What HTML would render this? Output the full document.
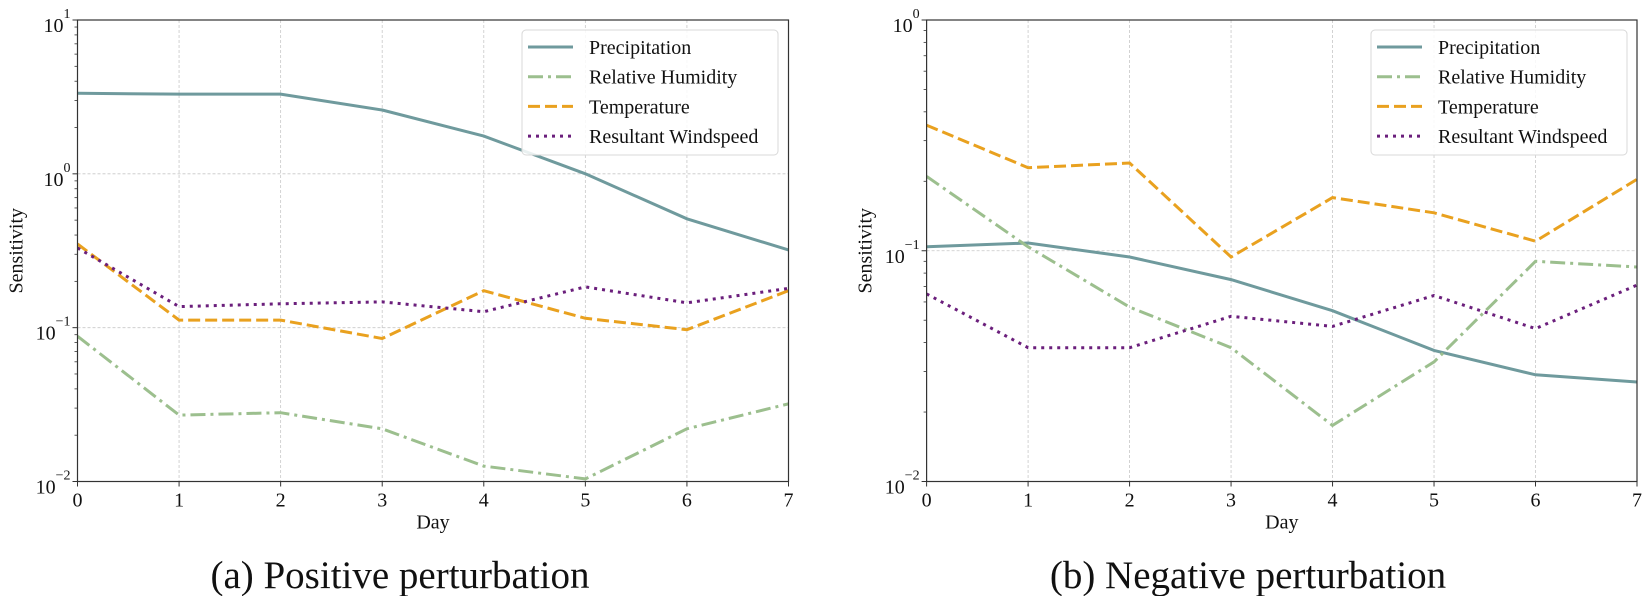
<!DOCTYPE html>
<html><head><meta charset="utf-8">
<style>
html,body{margin:0;padding:0;background:#fff;}
svg{display:block;font-family:"Liberation Serif",serif;}
</style></head>
<body>
<svg id="chart" width="1651" height="596" viewBox="0 0 1651 596" xmlns="http://www.w3.org/2000/svg"></svg>
<script>
const days = [0,1,2,3,4,5,6,7];
const seriesNames = ["Precipitation","Relative Humidity","Temperature","Resultant Windspeed"];
// Panel (a) positive perturbation
const posPrecip = [3.34,3.3,3.3,2.6,1.76,1.0,0.51,0.32];
const posHumidity = [0.088,0.027,0.028,0.022,0.0126,0.0104,0.022,0.032];
const posTemp = [0.35,0.112,0.112,0.085,0.174,0.115,0.097,0.174];
const posWind = [0.33,0.137,0.143,0.147,0.127,0.184,0.145,0.18];
// Panel (b) negative perturbation
const negPrecip = [0.104,0.108,0.094,0.075,0.055,0.037,0.029,0.027];
const negHumidity = [0.21,0.104,0.057,0.038,0.0175,0.033,0.09,0.085];
const negTemp = [0.35,0.229,0.24,0.094,0.17,0.146,0.11,0.204];
const negWind = [0.065,0.038,0.038,0.052,0.047,0.064,0.046,0.071];
const posExp = [1,0,-1,-2];
const negExp = [0,-1,-2];

const NS="http://www.w3.org/2000/svg";
const svg=document.getElementById('chart');
function mk(tag,attrs,parent){const e=document.createElementNS(NS,tag);for(const k in attrs)e.setAttribute(k,attrs[k]);(parent||svg).appendChild(e);return e;}
const styles=[
 {c:"#6f9a9d",d:"none"},
 {c:"#9cbf8e",d:"15,5,3,5"},
 {c:"#e9a11f",d:"12,5"},
 {c:"#6b1f7c",d:"3,5"}
];

function panel(id,x0,x1,y0,y1,emax,emin,data,caption,capX,legX){
  const g=mk('g',{});
  
  
  const xs=d=>x0+(x1-x0)*(d-days[0])/(days[days.length-1]-days[0]);
  const ys=v=>y0+(y1-y0)*(emax-Math.log10(v))/(emax-emin);
  // grid
  days.forEach(d=>{const l=mk('line',{x1:xs(d),x2:xs(d),y1:y0,y2:y1,stroke:"#c8c8c8","stroke-width":0.8,"stroke-dasharray":"3,2"},g);
    });
  for(let e=emax;e>=emin;e--){const l=mk('line',{x1:x0,x2:x1,y1:ys(Math.pow(10,e)),y2:ys(Math.pow(10,e)),stroke:"#c8c8c8","stroke-width":0.8,"stroke-dasharray":"3,2"},g);
    }
  // series
  const clip='clip-'+id;
  const cp=mk('clipPath',{id:clip},g);mk('rect',{x:x0,y:y0-2,width:x1-x0,height:y1-y0+4},cp);
  data.forEach((vals,i)=>{
    const pts=vals.map((v,j)=>xs(days[j]).toFixed(1)+','+ys(v).toFixed(1)).join(' ');
    const p=mk('polyline',{points:pts,fill:"none",stroke:styles[i].c,"stroke-width":3,"stroke-dasharray":styles[i].d,"clip-path":"url(#"+clip+")"},g);
    
    
  });
  // frame
  const fr=mk('rect',{x:x0,y:y0,width:x1-x0,height:y1-y0,fill:"none",stroke:"#333","stroke-width":1.2},g);
  
  // x ticks
  days.forEach(d=>{mk('line',{x1:xs(d),x2:xs(d),y1:y1,y2:y1+5,stroke:"#333","stroke-width":1},g);
    const t=mk('text',{x:xs(d),y:y1+25,"text-anchor":"middle","font-size":20,fill:"#111"},g);t.textContent=d;
    });
  // y ticks
  for(let e=emax;e>=emin;e--){
    const y=ys(Math.pow(10,e));
    mk('line',{x1:x0-5,x2:x0,y1:y,y2:y,stroke:"#333","stroke-width":1},g);
    if(e>emin){for(let m=2;m<=9;m++){const ym=ys(m*Math.pow(10,e-1));mk('line',{x1:x0-3,x2:x0,y1:ym,y2:ym,stroke:"#333","stroke-width":0.8},g);}}
    const t=mk('text',{x:x0-7,y:y+12,"text-anchor":"end","font-size":20,fill:"#111"},g);
    
    const a=mk('tspan',{},t);a.textContent='10';
    const b=mk('tspan',{dy:-14,"font-size":14},t);b.textContent=(e<0?'\u2212'+(-e):''+e);
  }
  const xl=mk('text',{x:(x0+x1)/2,y:y1+47,"text-anchor":"middle","font-size":20,fill:"#111"},g);xl.textContent='Day';
  
  const yl=mk('text',{x:0,y:0,"text-anchor":"middle","font-size":20,fill:"#111",transform:`translate(${x0-55},${(y0+y1)/2}) rotate(-90)`},g);yl.textContent='Sensitivity';
  
  // legend
  const lg=mk('g',{},g);
  mk('rect',{x:legX,y:30,width:256,height:125,rx:4,fill:"#fff","fill-opacity":0.85,stroke:"#d8d8d8","stroke-width":1},lg);
  seriesNames.forEach((n,i)=>{
    const yy=47+i*29.7;
    const e=mk('g',{},lg);
    mk('line',{x1:legX+6,x2:legX+51,y1:yy,y2:yy,stroke:styles[i].c,"stroke-width":3,"stroke-dasharray":styles[i].d},e);
    const t=mk('text',{x:legX+67,y:yy+7,"font-size":20,fill:"#111"},e);t.textContent=n;
  });
  const c=mk('text',{x:capX,y:588,"text-anchor":"middle","font-size":39,fill:"#111"},g);c.textContent=caption;
  
}
panel('panel-positive',77.5,788.5,20,481.5,1,-2,[posPrecip,posHumidity,posTemp,posWind],'(a) Positive perturbation',400,522);
panel('panel-negative',926.6,1637,20,481.5,0,-2,[negPrecip,negHumidity,negTemp,negWind],'(b) Negative perturbation',1248,1371);
</script>
</body></html>
